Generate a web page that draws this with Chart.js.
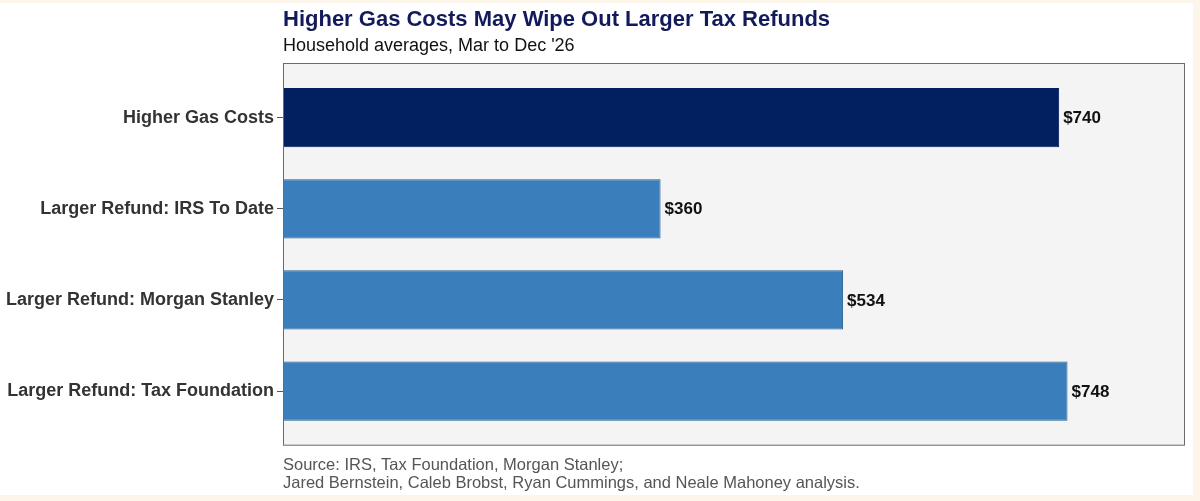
<!DOCTYPE html>
<html>
<head>
<meta charset="utf-8">
<script src="https://cdn.jsdelivr.net/npm/chart.js@4.4.1/dist/chart.umd.min.js"></script>
<style>
  html, body { margin: 0; padding: 0; background: #fdf4ea; }
  #wrap { position: absolute; left: 0; top: 3px; width: 1193px; height: 492px; background: #ffffff; }
</style>
</head>
<body>
<div id="wrap"><canvas id="chart"></canvas></div>
<script>
const categories = [
  "Higher Gas Costs",
  "Larger Refund: IRS To Date",
  "Larger Refund: Morgan Stanley",
  "Larger Refund: Tax Foundation",
];
const amounts = [740, 360, 534, 748];
const barColors = ["#021f5f", "#3a7fbb", "#3a7fbb", "#3a7fbb"];
const barBorders = ["#021f5f", "#2b618f", "#2b618f", "#2b618f"];
const titleText = "Higher Gas Costs May Wipe Out Larger Tax Refunds";
const subtitleText = "Household averages, Mar to Dec '26";
const sourceLines = [
  "Source: IRS, Tax Foundation, Morgan Stanley;",
  "Jared Bernstein, Caleb Brobst, Ryan Cummings, and Neale Mahoney analysis.",
];

const FONT = "'Liberation Sans', Arial, Helvetica, sans-serif";

// grey panel with a thin frame, like a ggplot theme_bw panel
const panel = {
  id: "panel",
  beforeDatasetsDraw(chart) {
    const { ctx, chartArea: a } = chart;
    ctx.save();
    ctx.fillStyle = "#f4f4f4";
    ctx.fillRect(a.left, a.top, a.right - a.left, a.bottom - a.top);
    ctx.restore();
  },
  afterDatasetsDraw(chart) {
    const { ctx, chartArea: a } = chart;
    ctx.save();
    ctx.strokeStyle = "#6b6b6b";
    ctx.lineWidth = 1;
    ctx.strokeRect(a.left + 0.5, a.top + 0.5, a.right - a.left - 1, a.bottom - a.top - 1);
    ctx.restore();
  },
};

const valueLabels = {
  id: "valueLabels",
  afterDatasetsDraw(chart) {
    const { ctx } = chart;
    const meta = chart.getDatasetMeta(0);
    ctx.save();
    ctx.font = "bold 17px " + FONT;
    ctx.fillStyle = "#111111";
    ctx.textAlign = "left";
    ctx.textBaseline = "middle";
    meta.data.forEach((bar, i) => {
      ctx.fillText("$" + amounts[i], bar.x + 4, bar.y + 1);
    });
    ctx.restore();
  },
};

new Chart(document.getElementById("chart"), {
  type: "bar",
  data: {
    datasets: [
      {
        data: amounts.map((v, i) => ({ x: v, y: i })),
        backgroundColor: barColors,
        borderColor: barBorders,
        borderWidth: 1,
        borderSkipped: false,
        categoryPercentage: 1,
        barPercentage: 0.65,
      },
    ],
  },
  options: {
    indexAxis: "y",
    responsive: true,
    maintainAspectRatio: false,
    animation: false,
    layout: { padding: { left: 0, right: 8, top: 0, bottom: 0 } },
    plugins: {
      legend: { display: false },
      tooltip: { enabled: false },
      title: {
        display: true,
        text: titleText,
        align: "start",
        fullSize: false,
        color: "#131a5b",
        font: { family: FONT, size: 22, weight: "bold" },
        padding: { top: 4, bottom: 2 },
      },
      subtitle: {
        display: true,
        text: subtitleText,
        align: "start",
        fullSize: false,
        color: "#111111",
        font: { family: FONT, size: 18 },
        padding: { top: 0, bottom: 6 },
      },
    },
    scales: {
      x: {
        type: "linear",
        min: 0,
        max: 860,
        grid: { display: false },
        border: { display: false },
        ticks: { display: false },
        title: {
          display: true,
          text: sourceLines,
          align: "start",
          color: "#555555",
          font: { family: FONT, size: 16.5, lineHeight: 1.1 },
          padding: { top: 3, bottom: 2 },
        },
      },
      y: {
        type: "linear",
        reverse: true,
        offset: false,
        min: -0.6,
        max: 3.6,
        afterBuildTicks(scale) {
          scale.ticks = categories.map((c, i) => ({ value: i }));
        },
        afterFit(scale) {
          scale.width = 283;
        },
        grid: {
          offset: false,
          drawOnChartArea: false,
          drawTicks: true,
          tickLength: 6,
          tickColor: "#555555",
        },
        border: { display: false },
        ticks: {
          padding: 3,
          color: "#333333",
          font: { family: FONT, size: 18, weight: "bold" },
          callback: (value) => categories[value],
        },
      },
    },
  },
  plugins: [panel, valueLabels],
});
</script>
</body>
</html>
